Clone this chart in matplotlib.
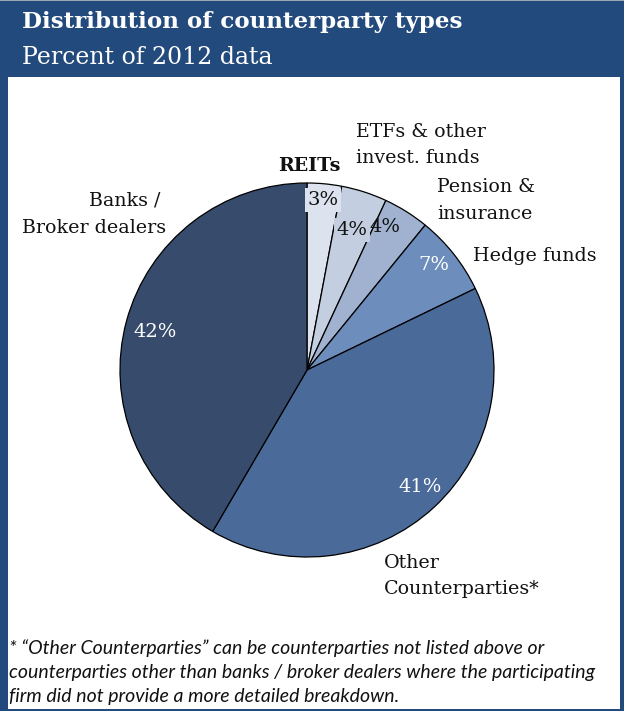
import matplotlib
matplotlib.use("Agg")
import matplotlib.pyplot as plt
from matplotlib.patches import Rectangle

# Counterparty shares, percent of 2012 data (clockwise from 12 o'clock)
categories = ["REITs", "ETFs & other\ninvest. funds", "Pension &\ninsurance",
              "Hedge funds", "Other\nCounterparties*", "Banks /\nBroker dealers"]
shares = [3, 4, 4, 7, 41, 42]
slice_colors = ["#DCE3EE", "#C4CEE1", "#A1B2D0", "#6D8DBD", "#4A6A9A", "#374C6C"]

title = "Distribution of counterparty types"
subtitle = "Percent of 2012 data"
footnote = ("* \u201cOther Counterparties\u201d can be counterparties not listed above or\n"
            "counterparties other than banks / broker dealers where the participating\n"
            "firm did not provide a more detailed breakdown.")

W, H = 624, 711
HEADER_BLUE = "#224A7C"
SERIF = "DejaVu Serif"

fig = plt.figure(figsize=(W / 100, H / 100), dpi=100)
fig.patch.set_facecolor(HEADER_BLUE)


def px(x, y):
    """Pixel position (from top-left) to figure fraction."""
    return x / W, 1 - y / H


# white content panel below the header band
panel = Rectangle(px(8, 709), (620 - 8) / W, (709 - 77) / H,
                  transform=fig.transFigure, facecolor="white",
                  edgecolor="none", zorder=-10)
fig.patches.append(panel)
fig.patches.append(Rectangle((0, 1 - 1 / H), 1, 1 / H, transform=fig.transFigure,
                             facecolor="#9AA6B6", edgecolor="none", zorder=-10))

fig.text(*px(22, 22), title, color="white", fontsize=16.6, fontweight="bold",
         family=SERIF, ha="left", va="center")
fig.text(*px(22, 57), subtitle, color="white", fontsize=17,
         family=SERIF, ha="left", va="center")

# pie: centre (307, 370) px, radius 187 px
cx, cy, r = 307, 370, 187
ax = fig.add_axes([(cx - r) / W, 1 - (cy + r) / H, 2 * r / W, 2 * r / H])
ax.set_zorder(1)
ax.patch.set_visible(False)
wedges, _ = ax.pie(shares, colors=slice_colors, startangle=90, counterclock=False,
                   radius=1.0,
                   wedgeprops=dict(edgecolor="black", linewidth=0.9))
ax.set_xlim(-1, 1)
ax.set_ylim(-1, 1)
ax.set_aspect("auto")
ax.axis("off")

# category labels
lab_kw = dict(fontsize=13.7, family=SERIF, color="#111111", zorder=5)
fig.text(*px(166, 200), "Banks / ", ha="right", va="center", **lab_kw)
fig.text(*px(166, 228), "Broker dealers", ha="right", va="center", **lab_kw)
fig.text(*px(309, 166), categories[0], ha="center", va="center",
         fontweight="bold", **lab_kw)
etf1, etf2 = categories[1].split("\n")
fig.text(*px(356, 132), etf1, ha="left", va="center", **lab_kw)
fig.text(*px(356, 158), etf2, ha="left", va="center", **lab_kw)
pen1, pen2 = categories[2].split("\n")
fig.text(*px(437, 187), pen1, ha="left", va="center", **lab_kw)
fig.text(*px(437, 214), pen2, ha="left", va="center", **lab_kw)
fig.text(*px(473, 256), categories[3], ha="left", va="center", **lab_kw)
oth1, oth2 = categories[4].split("\n")
fig.text(*px(384, 563), oth1, ha="left", va="center", **lab_kw)
fig.text(*px(384, 589), oth2, ha="left", va="center", **lab_kw)

# percentage labels
pct_pos = [(323, 200), (352, 230), (385, 227), (434, 265), (420, 487), (155, 332)]
pct_col = ["#111111", "#111111", "#111111", "white", "white", "white"]
pct_box = [slice_colors[0], slice_colors[1], None, None, None, None]
for v, (x, y), c, b in zip(shares, pct_pos, pct_col, pct_box):
    kw = {}
    if b is not None:
        kw["bbox"] = dict(boxstyle="square,pad=0.15", facecolor=b, edgecolor="none")
    fig.text(*px(x, y), f"{v}%", ha="center", va="center", color=c,
             fontsize=14, family=SERIF, zorder=6, **kw)

fig.text(*px(9, 672), footnote, ha="left", va="center", fontsize=14.0,
         family="Lato", style="italic", color="#111111", linespacing=1.5)

fig.savefig("out.png", dpi=100, facecolor=fig.get_facecolor())
